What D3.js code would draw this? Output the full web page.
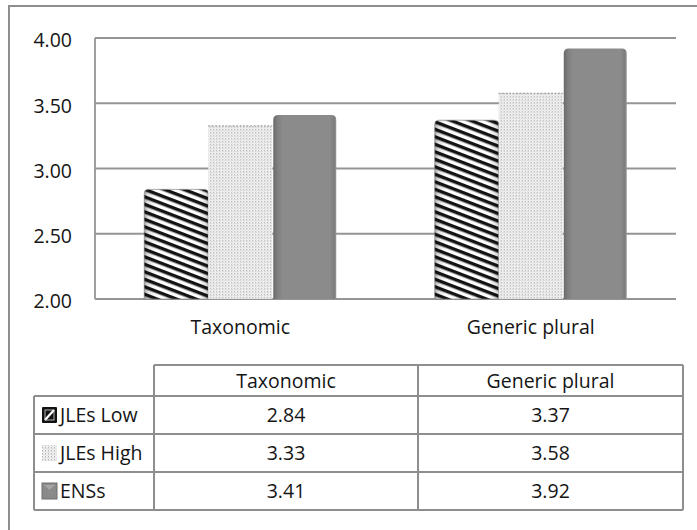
<!DOCTYPE html>
<html><head><meta charset="utf-8">
<script src="https://cdn.jsdelivr.net/npm/d3@7"></script>
<style>
body{margin:0;background:#fff}
svg{display:block}
text{font-family:"Open Sans",sans-serif;fill:#151515}
</style>
</head><body>
<svg id="c" width="697" height="530"></svg>
<script>
const categories = ["Taxonomic", "Generic plural"];
const seriesNames = ["JLEs Low", "JLEs High", "ENSs"];
const jlesLow = [2.84, 3.37];
const jlesHigh = [3.33, 3.58];
const enss = [3.41, 3.92];
const yTicks = [2.00, 2.50, 3.00, 3.50, 4.00];

const seriesValues = [jlesLow, jlesHigh, enss];
const series = seriesNames.map((n, i) => ({name: n, idx: i, values: seriesValues[i]}));
const fmt = d3.format(".2f");

const svg = d3.select("#c");
const plot = {left: 95, right: 676, top: 38, bottom: 299};
const FS = 19.5;
const gridCol = "#959595";

const defs = svg.append("defs");
const st = defs.append("pattern").attr("id", "stripes").attr("patternUnits", "userSpaceOnUse")
  .attr("width", 12).attr("height", 7).attr("patternTransform", "rotate(21)");
st.append("rect").attr("width", 12).attr("height", 7).attr("fill", "#fff");
st.append("rect").attr("width", 12).attr("height", 3.4).attr("fill", "#141414");
const dp = defs.append("pattern").attr("id", "dots").attr("patternUnits", "userSpaceOnUse")
  .attr("width", 3).attr("height", 3);
dp.append("rect").attr("width", 3).attr("height", 3).attr("fill", "#f3f3f3");
dp.append("rect").attr("x", 0).attr("y", 0).attr("width", 1).attr("height", 1).attr("fill", "#b0b0b0");
dp.append("rect").attr("x", 0).attr("y", 1).attr("width", 1).attr("height", 1).attr("fill", "#d2d2d2");
dp.append("rect").attr("x", 1.5).attr("y", 1.5).attr("width", 1).attr("height", 1).attr("fill", "#c8c8c8");
const cg = defs.append("linearGradient").attr("id", "cyl").attr("x1", 0).attr("x2", 1).attr("y1", 0).attr("y2", 0);
[[0, 0.35], [0.06, 0.12], [0.18, 0], [0.85, 0], [0.96, 0.12], [1, 0.25]].forEach(([o, a]) =>
  cg.append("stop").attr("offset", o).attr("stop-color", "#000").attr("stop-opacity", a));
const cg2 = defs.append("linearGradient").attr("id", "cylGray").attr("x1", 0).attr("x2", 1).attr("y1", 0).attr("y2", 0);
[[0, "#6a6a6a"], [0.07, "#808080"], [0.15, "#8b8b8b"], [0.9, "#8b8b8b"], [0.97, "#7d7d7d"], [1, "#9a9a9a"]].forEach(([o, c]) =>
  cg2.append("stop").attr("offset", o).attr("stop-color", c));

svg.append("rect").attr("x", 9).attr("y", 6).attr("width", 720).attr("height", 560)
  .attr("fill", "none").attr("stroke", "#8e8e8e").attr("stroke-width", 2);

const x0 = d3.scaleBand().domain(categories).range([plot.left, plot.right]).paddingInner(0.339).paddingOuter(0.1695);
const x1 = d3.scaleBand().domain(seriesNames).range([0, x0.bandwidth()]);
const y = d3.scaleLinear().domain([2, 4]).range([plot.bottom, plot.top]);

svg.append("g").selectAll("line").data(yTicks).join("line")
  .attr("x1", plot.left).attr("x2", plot.right)
  .attr("y1", d => y(d)).attr("y2", d => y(d))
  .attr("stroke", gridCol).attr("stroke-width", 1.8);
svg.append("line").attr("x1", plot.left).attr("x2", plot.left).attr("y1", y(4)).attr("y2", y(2))
  .attr("stroke", gridCol).attr("stroke-width", 1.8);

const yAxis = svg.append("g").attr("transform", `translate(${plot.left},0)`)
  .call(d3.axisLeft(y).tickValues(yTicks).tickFormat(fmt).tickSize(0).tickPadding(23));
yAxis.select(".domain").remove();
yAxis.selectAll("text").attr("font-size", FS).attr("font-family", "Open Sans, sans-serif")
  .attr("fill", "#151515").attr("dy", "0.45em");

const xAxis = svg.append("g").attr("transform", `translate(0,${plot.bottom})`)
  .call(d3.axisBottom(x0).tickSize(0).tickPadding(21));
xAxis.select(".domain").remove();
xAxis.selectAll("text").attr("font-size", FS).attr("font-family", "Open Sans, sans-serif").attr("fill", "#151515");

function roundTop(x, yy, w, h, r) {
  return `M${x},${yy + h}L${x},${yy + r}Q${x},${yy} ${x + r},${yy}L${x + w - r},${yy}Q${x + w},${yy} ${x + w},${yy + r}L${x + w},${yy + h}Z`;
}

const groups = svg.append("g").selectAll("g").data(categories).join("g")
  .attr("transform", c => `translate(${x0(c)},0)`);
groups.each(function(c, ci) {
  const g = d3.select(this);
  series.forEach(s => {
    const v = s.values[ci];
    const bx = x1(s.name), bw = x1.bandwidth(), by = y(v), bh = y(2) - y(v);
    if (s.idx === 0) {
      g.append("path").attr("d", roundTop(bx, by, bw, bh, 4)).attr("fill", "url(#stripes)");
      g.append("path").attr("d", roundTop(bx, by, bw, bh, 4)).attr("fill", "url(#cyl)")
        .attr("stroke", "#777").attr("stroke-width", 0.6);
    } else if (s.idx === 1) {
      g.append("rect").attr("x", bx).attr("y", by).attr("width", bw).attr("height", bh).attr("fill", "url(#dots)");
      g.append("line").attr("x1", bx).attr("x2", bx + bw).attr("y1", by + 0.5).attr("y2", by + 0.5)
        .attr("stroke", "#9a9a9a").attr("stroke-width", 1.2).attr("stroke-dasharray", "1.5,2");
    } else {
      g.append("path").attr("d", roundTop(bx + 1, by, bw - 1, bh, 5)).attr("fill", "url(#cylGray)");
    }
  });
});

const tbl = {left: 34, c1: 154, c2: 418, right: 683, top: 365, head: 396, rowH: 38};
const rows = series.length;
const bottom = tbl.head + rows * tbl.rowH;
const tg = svg.append("g");
const lineAttr = sel => sel.attr("stroke", "#8e8e8e").attr("stroke-width", 2);
tg.append("line").attr("x1", tbl.c1).attr("x2", tbl.right).attr("y1", tbl.top).attr("y2", tbl.top).call(lineAttr);
d3.range(rows + 1).forEach(i => {
  const yy = tbl.head + i * tbl.rowH;
  tg.append("line").attr("x1", tbl.left).attr("x2", tbl.right).attr("y1", yy).attr("y2", yy).call(lineAttr);
});
[tbl.c1, tbl.c2, tbl.right].forEach(xx =>
  tg.append("line").attr("x1", xx).attr("x2", xx).attr("y1", tbl.top).attr("y2", bottom).call(lineAttr));
tg.append("line").attr("x1", tbl.left).attr("x2", tbl.left).attr("y1", tbl.head).attr("y2", bottom).call(lineAttr);

const colX = [(tbl.c1 + tbl.c2) / 2, (tbl.c2 + tbl.right) / 2];
categories.forEach((c, ci) => {
  tg.append("text").attr("x", colX[ci]).attr("y", (tbl.top + tbl.head) / 2 + 7).attr("text-anchor", "middle")
    .attr("font-size", FS).text(c);
});
series.forEach((s, si) => {
  const cy = tbl.head + si * tbl.rowH + tbl.rowH / 2;
  s.values.forEach((v, ci) => {
    tg.append("text").attr("x", colX[ci]).attr("y", cy + 7).attr("text-anchor", "middle")
      .attr("font-size", FS).text(fmt(v));
  });
  tg.append("text").attr("x", 60).attr("y", cy + 7).attr("font-size", FS).text(s.name);
  const ix = 42, iy = cy - 8, isz = 15;
  if (si === 0) {
    tg.append("rect").attr("x", ix).attr("y", iy).attr("width", isz).attr("height", isz + 1).attr("fill", "#111").attr("rx", 1);
    tg.append("line").attr("x1", ix + 3).attr("y1", iy + isz - 2).attr("x2", ix + isz - 3).attr("y2", iy + 3)
      .attr("stroke", "#fff").attr("stroke-width", 2.2);
    tg.append("rect").attr("x", ix + 3).attr("y", iy + 3).attr("width", isz - 6).attr("height", isz - 5)
      .attr("fill", "none").attr("stroke", "#ddd").attr("stroke-width", 0.8);
  } else if (si === 1) {
    tg.append("rect").attr("x", ix).attr("y", iy).attr("width", isz).attr("height", isz + 1).attr("fill", "url(#dots)");
  } else {
    tg.append("rect").attr("x", ix).attr("y", iy).attr("width", isz).attr("height", isz + 1).attr("fill", "#8a8a8a")
      .attr("stroke", "#6e6e6e").attr("stroke-width", 1);
    tg.append("path").attr("d", `M${ix + 2},${iy + 2}L${ix + isz - 2},${iy + 2}L${ix + isz / 2},${iy + 7}Z`).attr("fill", "#a5a5a5");
  }
});
</script>
</body></html>
